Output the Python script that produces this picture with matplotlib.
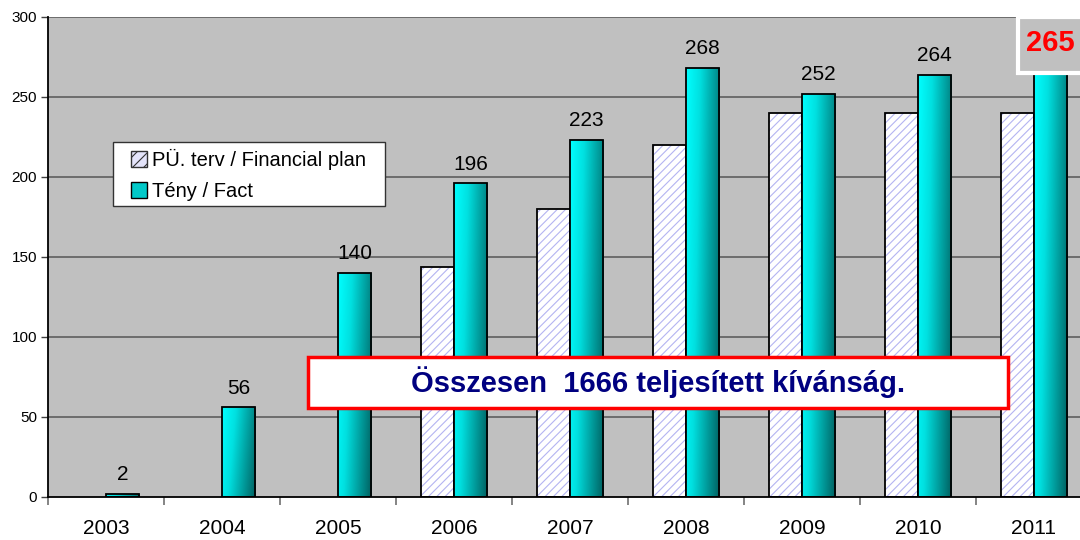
import numpy as np
import matplotlib
matplotlib.use('Agg')
import matplotlib.pyplot as plt
from matplotlib.patches import Rectangle, Patch
from matplotlib.colors import LinearSegmentedColormap

plt.rcParams['font.family'] = ['Liberation Sans', 'DejaVu Sans']
plt.rcParams['hatch.linewidth'] = 0.8

# data
years = ['2003', '2004', '2005', '2006', '2007', '2008', '2009', '2010', '2011']
plan = [0, 0, 0, 144, 180, 220, 240, 240, 240]
fact = [2, 56, 140, 196, 223, 268, 252, 264, 265]
legend_labels = ['PÜ. terv / Financial plan', 'Tény / Fact']
total_text = 'Összesen  1666 teljesített kívánság.'

fig = plt.figure(figsize=(10.8, 5.4), dpi=100)
# plot area runs past the right edge of the picture, like the original
ax = fig.add_axes([48 / 1080, 43 / 540, 1044 / 1080, 480 / 540])
ax.set_facecolor('#C0C0C0')
ax.set_xlim(-0.5, 8.5)
ax.set_ylim(0, 300)

# grid
for v in range(50, 301, 50):
    ax.axhline(v, color='#555555', lw=1.1, zorder=1)

w = 0.285
x = np.arange(len(years))

# plan bars: white with lavender hatch, black outline
for xi, p in zip(x, plan):
    if p <= 0:
        continue
    ax.bar(xi - w / 2, p, width=w, color='white', edgecolor='#b4b4f2',
           hatch='////', linewidth=0, zorder=2)
    ax.bar(xi - w / 2, p, width=w, color='none', edgecolor='black',
           linewidth=1.3, zorder=3)

# fact bars: cyan to teal gradient
cmap = LinearSegmentedColormap.from_list('teal', ['#00ffff', '#00e0e0', '#00a0a0', '#006060'])
gx = np.linspace(0, 1, 64)
gy = np.linspace(0, 1, 64)
GX, GY = np.meshgrid(gx, gy)
grad = 0.8 * GX + 0.2 * GY  # darker to the right and lower
for xi, f in zip(x, fact):
    left = xi
    bar = ax.bar(left + w / 2, f, width=w, color='none', edgecolor='black',
                 linewidth=1.3, zorder=5)[0]
    im = ax.imshow(grad, cmap=cmap, vmin=0, vmax=1, aspect='auto',
                   extent=[left, left + w, 0, f], origin='upper', zorder=4,
                   interpolation='bilinear')
    im.set_clip_path(bar)

# value labels
for xi, f in zip(x[:-1], fact[:-1]):
    ax.annotate(str(f), (xi + w / 2, f), xytext=(0, 7), textcoords='offset points',
                ha='center', va='bottom', fontsize=15, zorder=6)

# highlighted last value
ax.add_patch(Rectangle((7.86, fact[-1]), 0.8, 300 - fact[-1], facecolor='#C0C0C0',
                       edgecolor='white', linewidth=3, clip_on=False, zorder=6))
ax.text(x[-1] + w / 2, (fact[-1] + 300) / 2 + 1, str(fact[-1]), color='#ff0000',
        fontsize=21, fontweight='bold', ha='center', va='center', zorder=7)

# total box
ax.add_patch(Rectangle((1.74, 55.5), 6.04, 32, facecolor='white', edgecolor='#ff0000',
                       linewidth=2.5, zorder=8))
ax.text((1.74 + 7.78) / 2, 71.5, total_text, color='#000080', fontsize=21,
        fontweight='bold', ha='center', va='center', zorder=9)

# axes, ticks
ax.set_yticks(range(0, 301, 50))
ax.tick_params(axis='y', length=5, width=1, labelsize=11, color='#404040', pad=3)
ax.set_xticks(np.arange(-0.5, 8.6, 1))
ax.set_xticklabels([])
ax.tick_params(axis='x', which='major', length=6, width=1.2, color='#707070')
ax.set_xticks(x, minor=True)
ax.set_xticklabels(years, minor=True)
ax.tick_params(axis='x', which='minor', length=0, labelsize=15, pad=16)
for s in ['top', 'right']:
    ax.spines[s].set_visible(False)
ax.spines['left'].set_linewidth(1.3)
ax.spines['bottom'].set_linewidth(1.3)
ax.spines['left'].set_zorder(10)
ax.spines['bottom'].set_zorder(10)

# legend: own frame box, frameless legend placed inside it
fig.patches.append(Rectangle((113 / 1080, 1 - 206 / 540), 272 / 1080, 64 / 540,
                             transform=fig.transFigure, facecolor='white',
                             edgecolor='#333333', linewidth=1, zorder=19))
handles = [Patch(facecolor='#e4e4fa', edgecolor='#333333', hatch='///', linewidth=1),
           Patch(facecolor='#00c8c8', edgecolor='black', linewidth=1)]
leg = fig.legend(handles, legend_labels, loc='upper left',
                 bbox_to_anchor=(131 / 1080, 1 - 149 / 540), fontsize=14.5,
                 frameon=False, handlelength=0.8, handleheight=0.8,
                 handletextpad=0.25, borderpad=0, labelspacing=0.6,
                 borderaxespad=0)
leg.set_zorder(20)

fig.savefig('out.png', dpi=100)
